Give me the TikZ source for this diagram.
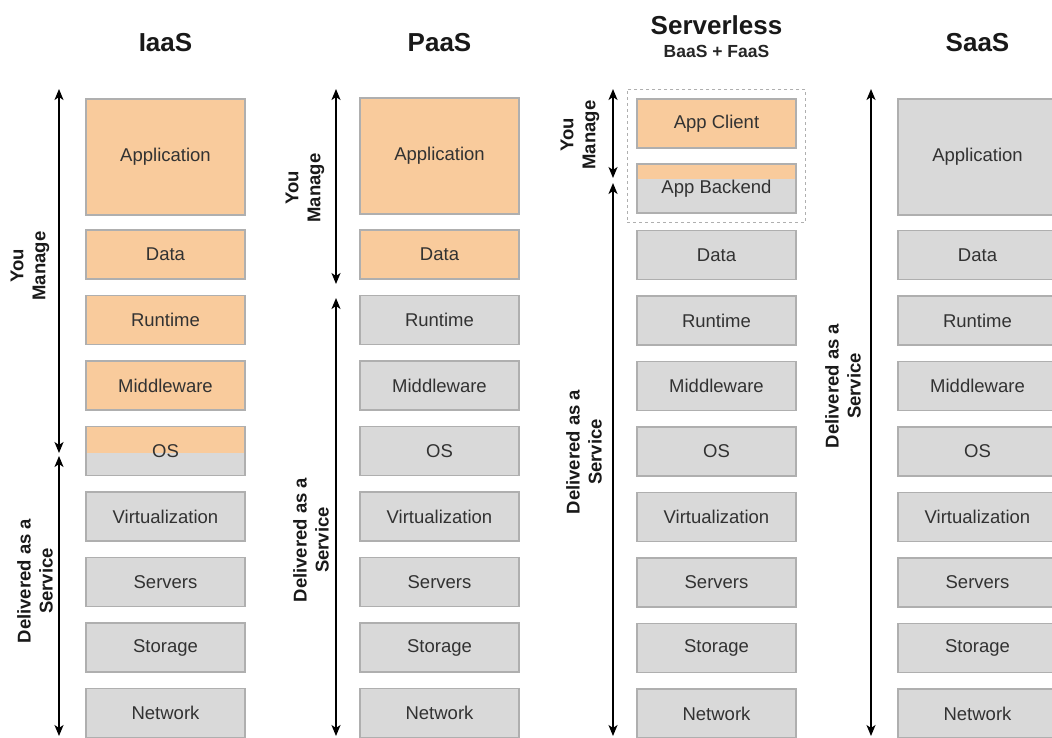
\documentclass[tikz,border=0pt]{standalone}
\usepackage{fontspec}
\setmainfont{Liberation Sans}
\usetikzlibrary{arrows.meta,fit}
\definecolor{mgorange}{RGB}{249,203,156}
\definecolor{svgray}{RGB}{217,217,217}
\definecolor{edgegray}{RGB}{175,175,175}
\definecolor{txtgray}{RGB}{50,50,50}

\begin{document}
\begin{tikzpicture}[x=1pt, y=-1pt,
    layer/.style={draw=edgegray, line width=1.3pt, minimum width=159pt, minimum height=49pt,
        inner sep=0pt, text=txtgray, font=\fontsize{18.5}{21}\selectfont},
    own/.style={layer, fill=mgorange},
    given/.style={layer, fill=svgray},
    tall/.style={minimum height=116pt},
    split/.style={path picture={\fill[mgorange] (path picture bounding box.north west)
        rectangle ([yshift=-#1]path picture bounding box.north east);}},
    title/.style={font=\fontsize{26}{30}\selectfont\bfseries, text=black!90},
    side/.style={rotate=90, align=center, font=\fontsize{18.5}{22}\selectfont\bfseries, text=black!90},
    span/.style={<->, >={Stealth[length=11pt,width=9pt,inset=3pt]}, line width=1.8pt}
]
    \useasboundingbox (0,0) rectangle (1052,737);

    % Titel
    \node[title] (iaasT) at (165.5,43) {IaaS};
    \node[title] (paasT) at (439.5,43) {PaaS};
    \node[title] (slsT) at (716.5,25) {Serverless};
    \node[font=\fontsize{17.5}{20}\selectfont\bfseries, text=black!85] (slsSub) at (716.5,51) {BaaS + FaaS};
    \node[title] (saasT) at (977.5,43) {SaaS};

    % IaaS
    \node[own, tall] (iaasApp) at (165.5,157) {Application};
    \foreach \lbl [count=\i] in {Data,Runtime,Middleware}
        \node[own] (iaas\i) at (165.5,{254.5+65.5*(\i-1)}) {\lbl};
    \node[given, split=26pt] (iaas4) at (165.5,451) {OS};
    \foreach \lbl [count=\i from 5] in {Virtualization,Servers,Storage,Network}
        \node[given] (iaas\i) at (165.5,{254.5+65.5*(\i-1)}) {\lbl};

    % PaaS
    \node[own, tall] (paasApp) at (439.5,156) {Application};
    \node[own] (paas1) at (439.5,254.5) {Data};
    \foreach \lbl [count=\i from 2] in {Runtime,Middleware,OS,Virtualization,Servers,Storage,Network}
        \node[given] (paas\i) at (439.5,{254.5+65.5*(\i-1)}) {\lbl};

    % Serverless
    \node[own] (slsClient) at (716.5,123.5) {App Client};
    \node[given, split=15pt] (slsBackend) at (716.5,188.5) {App Backend};
    \node[draw=edgegray, dashed, line width=1.3pt, inner sep=9pt, fit=(slsClient)(slsBackend)] (slsBox) {};
    \foreach \lbl [count=\i] in {Data,Runtime,Middleware,OS,Virtualization,Servers,Storage,Network}
        \node[given] (sls\i) at (716.5,{255+65.5*(\i-1)}) {\lbl};

    % SaaS
    \node[given, tall] (saasApp) at (977.5,157) {Application};
    \foreach \lbl [count=\i] in {Data,Runtime,Middleware,OS,Virtualization,Servers,Storage,Network}
        \node[given] (saas\i) at (977.5,{255+65.5*(\i-1)}) {\lbl};

    % Pijlen
    \coordinate (iaasTop) at (59,89);
    \coordinate (iaasMidA) at (59,453);
    \coordinate (iaasMidB) at (59,456);
    \coordinate (iaasBot) at (59,736);
    \draw[span] (iaasTop) -- (iaasMidA);
    \draw[span] (iaasMidB) -- (iaasBot);

    \coordinate (paasTop) at (336,89);
    \coordinate (paasMidA) at (336,284);
    \coordinate (paasMidB) at (336,298);
    \coordinate (paasBot) at (336,736);
    \draw[span] (paasTop) -- (paasMidA);
    \draw[span] (paasMidB) -- (paasBot);

    \coordinate (slsTop) at (613,89);
    \coordinate (slsMidA) at (613,178);
    \coordinate (slsMidB) at (613,183);
    \coordinate (slsBot) at (613,736);
    \draw[span] (slsTop) -- (slsMidA);
    \draw[span] (slsMidB) -- (slsBot);

    \coordinate (saasTop) at (871,89);
    \coordinate (saasBot) at (871,736);
    \draw[span] (saasTop) -- (saasBot);

    % Labels
    \node[side] (iaasYou) at (30,266) {You\\Manage};
    \node[side] (iaasDel) at (35,581) {Delivered as a\\Service};
    \node[side] (paasYou) at (305,188) {You\\Manage};
    \node[side] (paasDel) at (311,540) {Delivered as a\\Service};
    \node[side] (slsYou) at (580,135) {You\\Manage};
    \node[side] (slsDel) at (584,452) {Delivered as a\\Service};
    \node[side] (saasDel) at (843,386) {Delivered as a\\Service};
\end{tikzpicture}
\end{document}
